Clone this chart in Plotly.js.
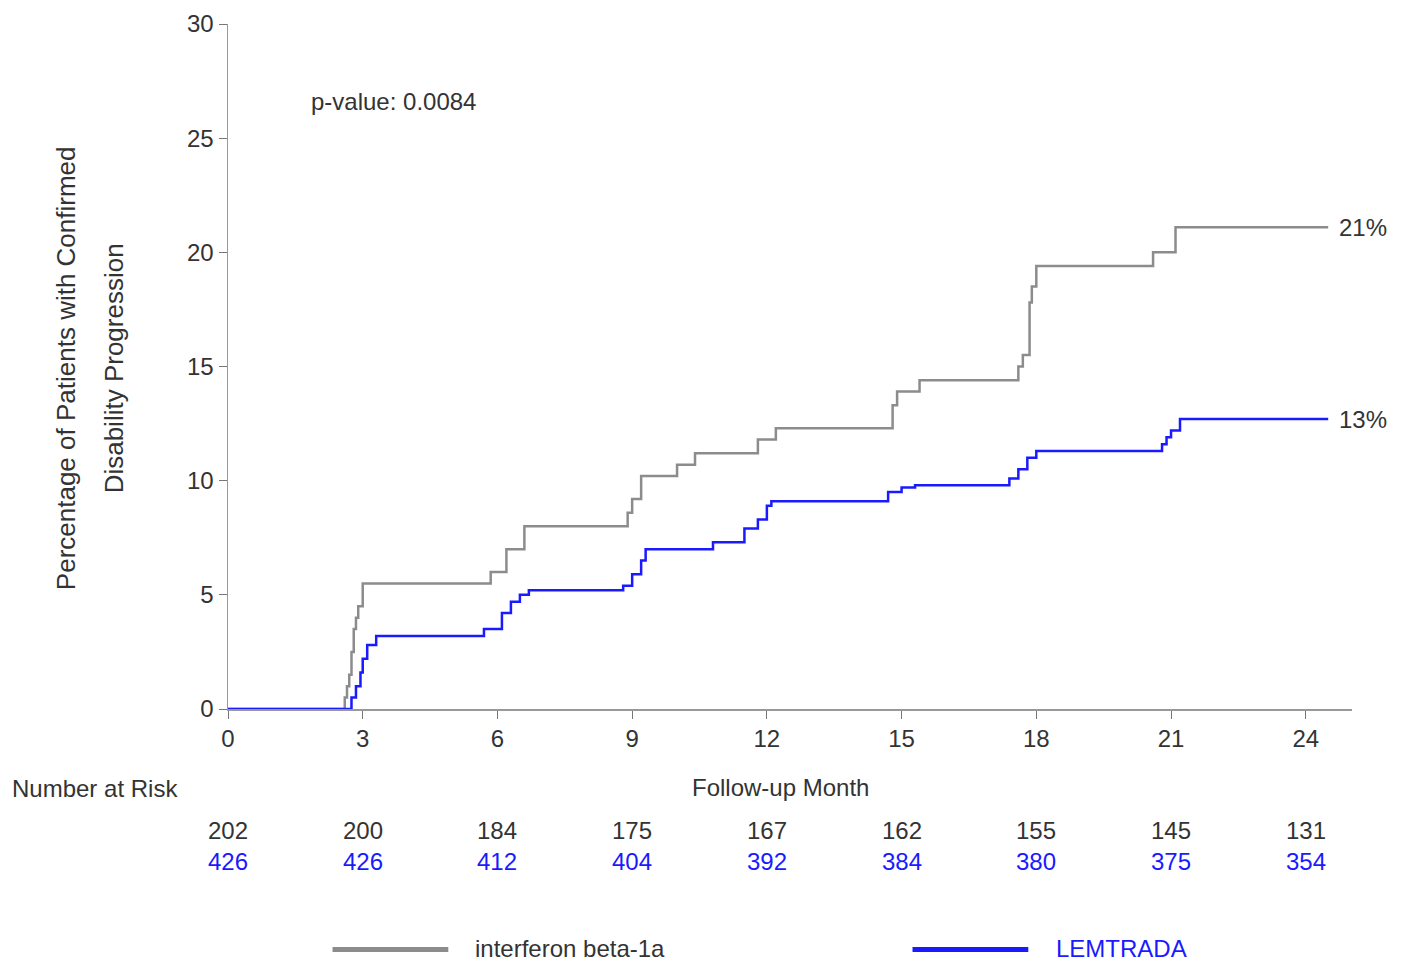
<!DOCTYPE html>
<html>
<head>
<meta charset="utf-8">
<script src="https://cdn.plot.ly/plotly-3.0.1.min.js"></script>
<style>body{margin:0;background:#fff}#chart{width:1414px;height:961px}</style>
</head>
<body>
<div id="chart"></div>
<script>
// Kaplan-Meier style step data (month, % progressed)
const ifnX = [0, 2.6, 2.65, 2.7, 2.75, 2.8, 2.85, 2.9, 3.0, 5.85, 6.2, 6.6, 8.9, 9.0, 9.2, 10.0, 10.4, 11.8, 12.2, 14.8, 14.9, 15.4, 17.6, 17.7, 17.85, 17.9, 18.0, 20.6, 21.1, 24.5];
const ifnY = [0, 0.5, 1.0, 1.5, 2.5, 3.5, 4.0, 4.5, 5.5, 6.0, 7.0, 8.0, 8.6, 9.2, 10.2, 10.7, 11.2, 11.8, 12.3, 13.3, 13.9, 14.4, 15.0, 15.5, 17.8, 18.5, 19.4, 20.0, 21.1, 21.1];
const lemX = [0, 2.75, 2.85, 2.95, 3.0, 3.1, 3.3, 5.7, 6.1, 6.3, 6.5, 6.7, 8.8, 9.0, 9.2, 9.3, 10.8, 11.5, 11.8, 12.0, 12.1, 14.7, 15.0, 15.3, 17.4, 17.6, 17.8, 18.0, 20.8, 20.9, 21.0, 21.2, 24.5];
const lemY = [0, 0.5, 1.0, 1.6, 2.2, 2.8, 3.2, 3.5, 4.2, 4.7, 5.0, 5.2, 5.4, 5.9, 6.5, 7.0, 7.3, 7.9, 8.3, 8.9, 9.1, 9.5, 9.7, 9.8, 10.1, 10.5, 11.0, 11.3, 11.6, 11.9, 12.2, 12.7, 12.7];

const riskMonths = [0, 3, 6, 9, 12, 15, 18, 21, 24];
const riskIfn = [202, 200, 184, 175, 167, 162, 155, 145, 131];
const riskLem = [426, 426, 412, 404, 392, 384, 380, 375, 354];

const GREY = "#8c8c8c";
const BLUE = "#1a1aff";
const TXT = "#333333";
const FONT = "Liberation Sans, Arial, sans-serif";

const traces = [
  { x: ifnX, y: ifnY, type: "scatter", mode: "lines", line: { shape: "hv", color: GREY, width: 2.5 }, name: "interferon beta-1a" },
  { x: lemX, y: lemY, type: "scatter", mode: "lines", line: { shape: "hv", color: BLUE, width: 2.5 }, name: "LEMTRADA" }
];

const mid = { showarrow: false, yanchor: "middle" };
const annotations = [
  { ...mid, x: 1.8, y: 26.6, text: "p-value: 0.0084", xanchor: "left", font: { size: 24 } },
  { ...mid, x: 24.7, y: ifnY[ifnY.length - 1], text: "21%", xanchor: "left", font: { size: 24 } },
  { ...mid, x: 24.7, y: lemY[lemY.length - 1], text: "13%", xanchor: "left", font: { size: 24 } },
  { ...mid, xref: "paper", yref: "paper", x: -0.194, y: -0.116, text: "Number at Risk", xanchor: "left", font: { size: 24 } },
  { ...mid, x: 12.3, y: -0.114, yref: "paper", text: "Follow-up Month", font: { size: 24 } },
  { ...mid, xref: "paper", yref: "paper", x: 0.218, y: -0.349, text: "interferon beta-1a", xanchor: "left", font: { size: 24 } },
  { ...mid, xref: "paper", yref: "paper", x: 0.735, y: -0.349, text: "LEMTRADA", xanchor: "left", font: { size: 24, color: BLUE } },
  { ...mid, xref: "paper", yref: "paper", x: -0.159, y: 0.498, textangle: -90, text: "Percentage of Patients with Confirmed", font: { size: 26 } },
  { ...mid, xref: "paper", yref: "paper", x: -0.117, y: 0.498, textangle: -90, text: "Disability Progression", font: { size: 26 } }
];
riskMonths.forEach((m, i) => {
  annotations.push({ ...mid, x: m, y: -0.177, yref: "paper", text: String(riskIfn[i]), font: { size: 24, color: TXT } });
  annotations.push({ ...mid, x: m, y: -0.222, yref: "paper", text: String(riskLem[i]), font: { size: 24, color: BLUE } });
});

const shapes = [
  { type: "line", xref: "paper", yref: "paper", x0: 0.093, x1: 0.196, y0: -0.351, y1: -0.351, line: { color: GREY, width: 5 } },
  { type: "line", xref: "paper", yref: "paper", x0: 0.609, x1: 0.712, y0: -0.351, y1: -0.351, line: { color: BLUE, width: 5 } }
];

const axisCommon = {
  showgrid: false, zeroline: false, showline: true, linecolor: "#999", linewidth: 1.5,
  ticks: "outside", ticklen: 8, tickcolor: "#777", tickfont: { size: 24, color: TXT }
};

Plotly.newPlot("chart", traces, {
  width: 1414, height: 961,
  margin: { l: 228, r: 62, t: 24, b: 252 },
  paper_bgcolor: "#fff", plot_bgcolor: "#fff",
  font: { family: FONT, color: TXT },
  showlegend: false,
  xaxis: { ...axisCommon, range: [0, 25.03], tickvals: riskMonths },
  yaxis: { ...axisCommon, range: [0, 30], dtick: 5 },
  annotations: annotations,
  shapes: shapes
}, { displayModeBar: false, staticPlot: true });
</script>
</body>
</html>
